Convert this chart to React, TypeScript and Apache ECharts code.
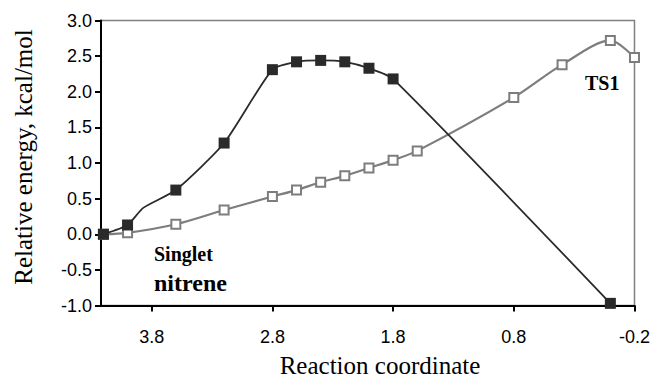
import React, { useEffect, useRef } from "react";
import * as echarts from "echarts";

// Reaction coordinate values (x) and relative energies (kcal/mol)
const darkX = [4.2, 4.0, 3.87, 3.6, 3.2, 2.8, 2.6, 2.4, 2.2, 2.0, 1.8, 0.0];
const darkY = [0.0, 0.13, 0.37, 0.62, 1.28, 2.31, 2.42, 2.44, 2.42, 2.33, 2.18, -0.97];
const darkMarked = [true, true, false, true, true, true, true, true, true, true, true, true];

const grayX = [4.2, 4.0, 3.6, 3.2, 2.8, 2.6, 2.4, 2.2, 2.0, 1.8, 1.6, 0.8, 0.4, 0.0, -0.2];
const grayY = [0.0, 0.02, 0.14, 0.34, 0.53, 0.62, 0.73, 0.82, 0.93, 1.04, 1.17, 1.92, 2.38, 2.72, 2.48];

const xTicks = [3.8, 2.8, 1.8, 0.8, -0.2];
const xTitle = "Reaction coordinate";
const yTitle = "Relative energy, kcal/mol";
const labelSinglet = "Singlet";
const labelNitrene = "nitrene";
const labelTS = "TS1";

export default function App() {
  const ref = useRef<HTMLDivElement>(null);
  useEffect(() => {
    document.body.style.margin = "0";
    if (!ref.current) return;
    const chart = echarts.init(ref.current, undefined, { renderer: "svg" });
    const serif = "Liberation Serif";
    const sans = "Liberation Sans";
    chart.setOption({
      animation: false,
      backgroundColor: "#ffffff",
      grid: {
        left: 101,
        right: 17,
        top: 20.5,
        bottom: 73.5,
        show: true,
        borderColor: "#808080",
        borderWidth: 1.5,
        backgroundColor: "transparent",
      },
      xAxis: {
        type: "value",
        inverse: true,
        min: -0.2,
        max: 4.22,
        interval: 1,
        axisLine: { onZero: false, lineStyle: { color: "#000", width: 2 } },
        axisTick: {
          show: true,
          length: 6,
          customValues: xTicks,
          lineStyle: { color: "#000", width: 2 },
        },
        axisLabel: {
          customValues: xTicks,
          formatter: (v: number) => v.toFixed(1),
          color: "#000",
          fontFamily: sans,
          fontSize: 18,
          margin: 22,
        },
        splitLine: { show: false },
      },
      yAxis: {
        type: "value",
        min: -1,
        max: 3,
        interval: 0.5,
        axisLine: { show: true, onZero: false, lineStyle: { color: "#000", width: 2 } },
        axisTick: { show: true, length: 6, lineStyle: { color: "#000", width: 2 } },
        axisLabel: {
          formatter: (v: number) => v.toFixed(1),
          color: "#000",
          fontFamily: sans,
          fontSize: 18,
          margin: 9,
        },
        splitLine: { show: false },
      },
      graphic: [
        {
          type: "text",
          x: 23,
          y: 157,
          rotation: Math.PI / 2,
          style: {
            text: yTitle,
            fontFamily: serif,
            fontWeight: "normal",
            fontSize: 25,
            fill: "#000",
            align: "center",
            verticalAlign: "middle",
          },
        },
        {
          type: "text",
          x: 380,
          y: 365,
          style: {
            text: xTitle,
            fontFamily: serif,
            fontWeight: "normal",
            fontSize: 25,
            fill: "#000",
            align: "center",
            verticalAlign: "middle",
          },
        },
        {
          type: "text",
          x: 154,
          y: 254,
          style: {
            text: labelSinglet,
            fontFamily: serif,
            fontWeight: "bold",
            fontSize: 20,
            fill: "#000",
            align: "left",
            verticalAlign: "middle",
          },
        },
        {
          type: "text",
          x: 154,
          y: 283,
          style: {
            text: labelNitrene,
            fontFamily: serif,
            fontWeight: "bold",
            fontSize: 24,
            fill: "#000",
            align: "left",
            verticalAlign: "middle",
          },
        },
        {
          type: "text",
          x: 585,
          y: 83,
          style: {
            text: labelTS,
            fontFamily: serif,
            fontWeight: "bold",
            fontSize: 20,
            fill: "#000",
            align: "left",
            verticalAlign: "middle",
          },
        },
      ],
      series: [
        {
          type: "line",
          name: "gray",
          data: grayX.map((x, i) => [x, grayY[i]]),
          smooth: 0.3,
          symbol: "emptyRect",
          symbolSize: 9,
          lineStyle: { color: "#7d7d7d", width: 2.2 },
          itemStyle: { color: "#7d7d7d", borderColor: "#7d7d7d", borderWidth: 2 },
          z: 2,
        },
        {
          type: "line",
          name: "dark",
          data: darkX.map((x, i) => ({
            value: [x, darkY[i]],
            symbol: darkMarked[i] ? "rect" : "none",
          })),
          smooth: 0.2,
          symbol: "rect",
          symbolSize: 11,
          lineStyle: { color: "#2a2a2a", width: 1.8 },
          itemStyle: { color: "#2a2a2a" },
          z: 3,
        },
      ],
    });
    return () => chart.dispose();
  }, []);
  return <div ref={ref} style={{ width: 653, height: 379 }} />;
}
